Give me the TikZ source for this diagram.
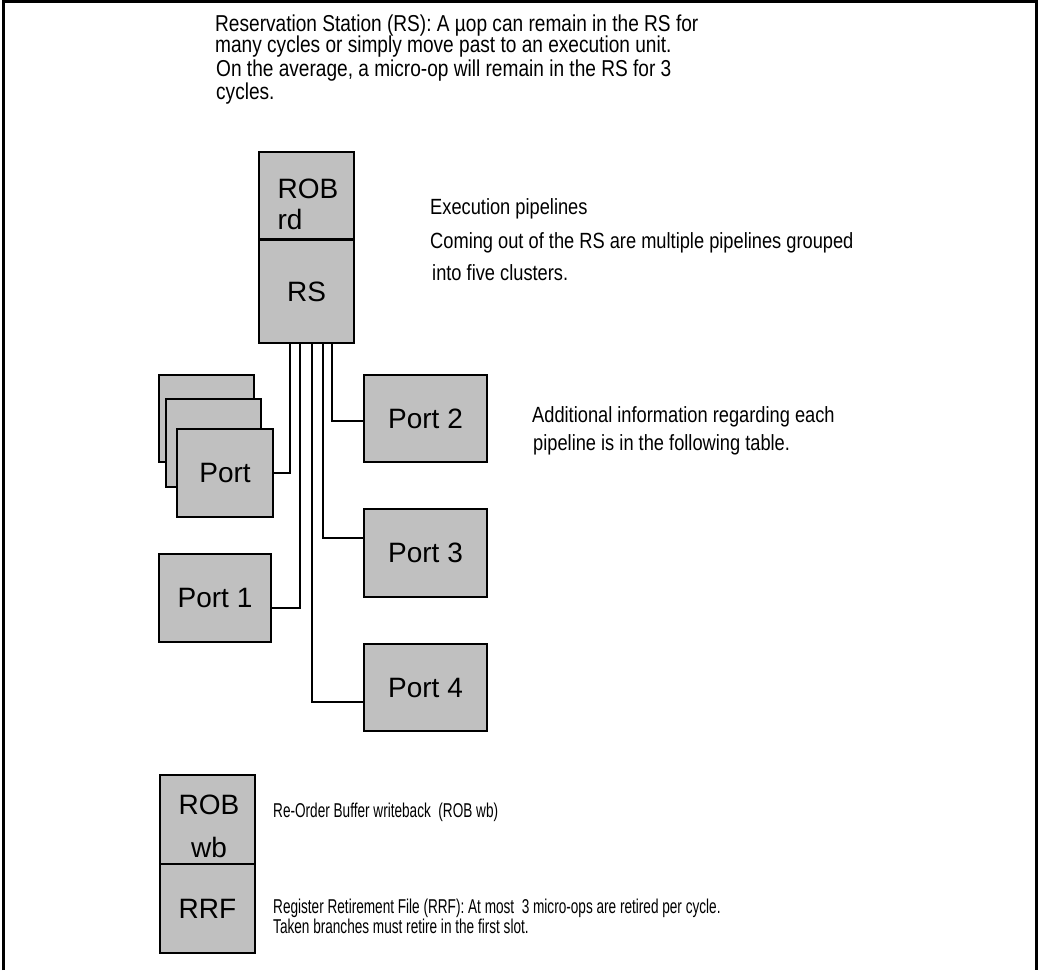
\documentclass[tikz,border=0pt]{standalone}
\usepackage{fontspec}
\setmainfont{Liberation Sans}
\newfontfamily\notefamily[FakeStretch=0.83]{Liberation Sans}
\newfontfamily\retirefamily[FakeStretch=0.68]{Liberation Sans}
\newcommand\notefont{\notefamily\fontsize{23}{26}\selectfont}
\newcommand\pipefont{\notefamily\fontsize{22}{26}\selectfont}
\newcommand\retirefont{\retirefamily\fontsize{20}{24}\selectfont}
\newcommand\boxfont{\fontsize{28}{31}\selectfont}
\usetikzlibrary{positioning}
\definecolor{boxgray}{RGB}{192,192,192}

\begin{document}
\begin{tikzpicture}[x=1pt, y=-1pt,
    unit/.style={rectangle, draw, line width=2.4pt, fill=boxgray, inner sep=0pt,
                 minimum width=95pt, minimum height=88pt, font=\boxfont},
    port/.style={unit, minimum width=123pt},
    unitlabel/.style={font=\boxfont, inner sep=0pt},
    wire/.style={line width=2pt},
    note/.style={anchor=base west, inner sep=0pt, font=\notefont},
    pipenote/.style={anchor=base west, inner sep=0pt, font=\pipefont},
    retirenote/.style={anchor=base west, inner sep=0pt, font=\retirefont}
]
    \useasboundingbox (0,0) rectangle (1038,970);
    \draw[line width=3pt] (3.5,970) -- (3.5,1.5) -- (1036.5,1.5) -- (1036.5,970);

    % reservation station
    \node[unit, minimum height=87pt] (robrd) at (306.5,195.5) {};
    \node[unitlabel, align=left] (robrdlabel) at (308,204.5) {ROB\\rd};
    \node[unit, minimum height=103pt] (rs) at (306.5,291.5) {RS};

    % execution ports
    \node[unit, minimum height=87pt] (portback) at (206.5,418.5) {};
    \node[unit] (portmid) at (213.5,443) {};
    \node[unit, minimum width=96pt] (port0) at (225,473) {Port};
    \node[unit, minimum width=112pt] (port1) at (215,598) {Port 1};
    \node[port, minimum height=87pt] (port2) at (425.5,418.5) {Port 2};
    \node[port] (port3) at (425.5,553) {\raisebox{-4pt}{Port 3}};
    \node[port, minimum height=87pt] (port4) at (425.5,687.5) {Port 4};

    \draw[wire] ([xshift=-16.5pt]rs.south) |- (port0.east);
    \draw[wire] ([xshift=-6.5pt]rs.south) |- ([yshift=-10pt]port1.east);
    \draw[wire] ([xshift=5.5pt]rs.south) |- ([yshift=-14pt]port4.west);
    \draw[wire] ([xshift=16.5pt]rs.south) |- ([yshift=15pt]port3.west);
    \draw[wire] ([xshift=25.5pt]rs.south) |- ([yshift=-2.5pt]port2.west);

    % retirement
    \node[unit, minimum height=89pt] (robwb) at (207.5,819.5) {};
    \node[unitlabel, align=center] (robwblabel) at (209,826.5) {ROB\\[12pt]wb};
    \node[unit, minimum height=89pt] (rrf) at (207.5,908.5) {RRF};

    % notes
    \node[note] (rsnote1) at (215,31) {Reservation Station (RS): A µop can remain in the RS for};
    \node[note] (rsnote2) at (215,52) {many cycles or simply move past to an execution unit.};
    \node[note] (rsnote3) at (216,76) {On the average, a micro-op will remain in the RS for 3};
    \node[note] (rsnote4) at (216,99) {cycles.};

    \node[pipenote] (pipenote1) at (430,214) {Execution pipelines};
    \node[pipenote] (pipenote2) at (430,248) {Coming out of the RS are multiple pipelines grouped};
    \node[pipenote] (pipenote3) at (432,280) {into five clusters.};

    \node[pipenote] (tablenote1) at (532,422) {Additional information regarding each};
    \node[pipenote] (tablenote2) at (533,450) {pipeline is in the following table.};

    \node[retirenote] (wbnote) at (273,817) {Re-Order Buffer writeback~ (ROB wb)};
    \node[retirenote] (rrfnote1) at (273,913) {Register Retirement File (RRF): At most~ 3 micro-ops are retired per cycle.};
    \node[retirenote] (rrfnote2) at (273,933) {Taken branches must retire in the first slot.};
\end{tikzpicture}
\end{document}
